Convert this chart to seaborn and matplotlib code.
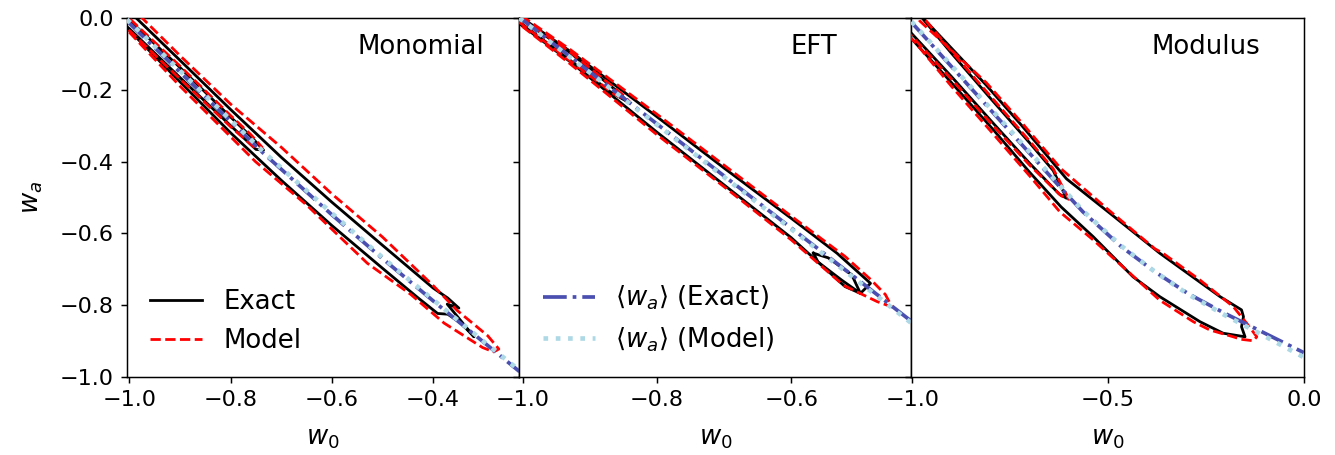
import numpy as np
import matplotlib
matplotlib.use("Agg")
import matplotlib.pyplot as plt
from matplotlib.lines import Line2D
import seaborn as sns

# ---------------- data (w0, wa) ----------------
panel_names = ["Monomial", "EFT", "Modulus"]
panel_xlims = [(-1.005, -0.2297), (-1.005, -0.421), (-1.002, 0.0)]
panel_xticks = [[-1.0, -0.8, -0.6, -0.4], [-1.0, -0.8, -0.6], [-1.0, -0.5, 0.0]]
yticks = [0.0, -0.2, -0.4, -0.6, -0.8, -1.0]

# ---- Monomial ----
mono_mean_exact_w0 = [-1.005, -0.9, -0.8, -0.735, -0.6, -0.5, -0.398, -0.3, -0.229]
mono_mean_exact_wa = [-0.008, -0.151, -0.288, -0.377, -0.548, -0.670, -0.790, -0.903, -0.985]
mono_mean_model_w0 = [-1.005, -0.9, -0.8, -0.735, -0.6, -0.5, -0.398, -0.3, -0.229]
mono_mean_model_wa = [-0.004, -0.147, -0.284, -0.373, -0.544, -0.667, -0.787, -0.901, -0.982]

mono_exact_outer_w0 = [-1.0, -0.9, -0.8, -0.7, -0.6, -0.5, -0.4, -0.371, -0.349, -0.372, -0.319,
                       -0.345, -0.371, -0.391, -0.431, -0.5, -0.6, -0.7, -0.8, -0.9, -1.0, -1.03]
mono_exact_outer_wa = [0.018, -0.118, -0.255, -0.388, -0.513, -0.633, -0.752, -0.780, -0.808, -0.797, -0.888,
                       -0.850, -0.825, -0.823, -0.778, -0.697, -0.578, -0.452, -0.320, -0.178, -0.035, 0.005]
mono_model_outer_w0 = [-1.0, -0.9, -0.8, -0.7, -0.6, -0.5, -0.4, -0.352, -0.292, -0.27, -0.28,
                       -0.302, -0.378, -0.444, -0.53, -0.649, -0.751, -0.9, -1.0, -1.03]
mono_model_outer_wa = [0.035, -0.105, -0.240, -0.360, -0.490, -0.610, -0.745, -0.815, -0.885, -0.922, -0.930,
                       -0.918, -0.850, -0.770, -0.683, -0.522, -0.400, -0.190, -0.040, 0.0]
mono_exact_inner_w0 = [-1.02, -0.9, -0.8, -0.76, -0.735, -0.75, -0.8, -0.9, -1.0, -1.03]
mono_exact_inner_wa = [0.02, -0.138, -0.276, -0.330, -0.368, -0.366, -0.300, -0.166, -0.030, 0.005]
mono_model_inner_w0 = [-1.02, -0.9, -0.8, -0.76, -0.738, -0.752, -0.8, -0.9, -1.0, -1.03]
mono_model_inner_wa = [0.025, -0.134, -0.272, -0.325, -0.360, -0.362, -0.303, -0.170, -0.035, 0.0]

# ---- EFT ----
eft_mean_exact_w0 = [-1.005, -0.9, -0.8, -0.7, -0.6, -0.5, -0.421]
eft_mean_exact_wa = [0.002, -0.150, -0.295, -0.440, -0.585, -0.730, -0.845]
eft_mean_model_w0 = [-1.005, -0.9, -0.8, -0.7, -0.6, -0.5, -0.421]
eft_mean_model_wa = [0.0, -0.152, -0.297, -0.443, -0.588, -0.734, -0.850]

eft_exact_outer_w0 = [-1.02, -0.929, -0.8, -0.7, -0.6, -0.532, -0.482, -0.497,
                      -0.52, -0.6, -0.7, -0.8, -0.929, -1.03]
eft_exact_outer_wa = [0.025, -0.093, -0.275, -0.418, -0.558, -0.655, -0.739, -0.767,
                      -0.748, -0.612, -0.465, -0.318, -0.122, 0.02]
eft_model_outer_w0 = [-1.02, -0.929, -0.8, -0.7, -0.6, -0.52, -0.482, -0.46, -0.45,
                      -0.472, -0.522, -0.6, -0.7, -0.8, -0.929, -1.03]
eft_model_outer_wa = [0.03, -0.088, -0.268, -0.410, -0.552, -0.664, -0.728, -0.770, -0.805,
                      -0.790, -0.745, -0.618, -0.470, -0.325, -0.128, 0.02]
eft_exact_inner_w0 = [-1.02, -0.929, -0.854, -0.845, -0.87, -0.929, -1.03]
eft_exact_inner_wa = [0.02, -0.097, -0.212, -0.232, -0.205, -0.118, 0.025]
eft_model_inner_w0 = [-1.02, -0.929, -0.85, -0.84, -0.865, -0.929, -1.03]
eft_model_inner_wa = [0.022, -0.095, -0.215, -0.235, -0.210, -0.120, 0.024]
eft_exact_island_w0 = [-0.567, -0.545, -0.51, -0.497, -0.525, -0.56, -0.567]
eft_exact_island_wa = [-0.655, -0.668, -0.715, -0.767, -0.730, -0.680, -0.655]

# ---- Modulus ----
modu_mean_exact_w0 = [-1.002, -0.8, -0.62, -0.564, -0.466, -0.38, -0.295, -0.201, -0.107, 0.0]
modu_mean_exact_wa = [-0.012, -0.256, -0.474, -0.540, -0.637, -0.707, -0.768, -0.823, -0.874, -0.932]
modu_mean_model_w0 = [-1.002, -0.8, -0.62, -0.564, -0.466, -0.38, -0.295, -0.201, -0.107, 0.0]
modu_mean_model_wa = [-0.010, -0.252, -0.470, -0.537, -0.635, -0.707, -0.770, -0.828, -0.882, -0.945]

modu_exact_outer_w0 = [-0.99, -0.956, -0.811, -0.72, -0.606, -0.495, -0.368, -0.214, -0.159, -0.154, -0.159, -0.150,
                       -0.206, -0.265, -0.368, -0.436, -0.538, -0.62, -0.70, -0.794, -0.90, -1.0, -1.03]
modu_exact_outer_wa = [0.02, -0.019, -0.187, -0.300, -0.448, -0.544, -0.655, -0.776, -0.813, -0.832, -0.860, -0.888,
                       -0.878, -0.846, -0.776, -0.721, -0.609, -0.526, -0.430, -0.310, -0.180, -0.060, -0.025]
modu_model_outer_w0 = [-1.0, -0.981, -0.811, -0.72, -0.62, -0.495, -0.38, -0.36, -0.265, -0.180, -0.146, -0.120, -0.129,
                       -0.16, -0.180, -0.240, -0.282, -0.368, -0.453, -0.538, -0.623, -0.70, -0.794, -0.9, -0.994, -1.03]
modu_model_outer_wa = [0.03, -0.008, -0.180, -0.292, -0.420, -0.538, -0.643, -0.655, -0.730, -0.804, -0.850, -0.888, -0.899,
                       -0.895, -0.888, -0.869, -0.846, -0.786, -0.702, -0.618, -0.540, -0.440, -0.322, -0.190, -0.066, -0.030]
modu_exact_inner_w0 = [-0.99, -0.9, -0.8, -0.7, -0.64, -0.606, -0.625, -0.7, -0.8, -0.9, -1.0, -1.03]
modu_exact_inner_wa = [0.02, -0.098, -0.224, -0.348, -0.425, -0.502, -0.490, -0.405, -0.285, -0.163, -0.045, -0.010]
modu_model_inner_w0 = [-0.99, -0.9, -0.8, -0.7, -0.64, -0.600, -0.62, -0.7, -0.8, -0.9, -1.0, -1.03]
modu_model_inner_wa = [0.025, -0.093, -0.218, -0.343, -0.420, -0.505, -0.495, -0.410, -0.292, -0.170, -0.052, -0.015]

exact_contours = [
    [(mono_exact_outer_w0, mono_exact_outer_wa), (mono_exact_inner_w0, mono_exact_inner_wa)],
    [(eft_exact_outer_w0, eft_exact_outer_wa), (eft_exact_inner_w0, eft_exact_inner_wa),
     (eft_exact_island_w0, eft_exact_island_wa)],
    [(modu_exact_outer_w0, modu_exact_outer_wa), (modu_exact_inner_w0, modu_exact_inner_wa)],
]
model_contours = [
    [(mono_model_outer_w0, mono_model_outer_wa), (mono_model_inner_w0, mono_model_inner_wa)],
    [(eft_model_outer_w0, eft_model_outer_wa), (eft_model_inner_w0, eft_model_inner_wa)],
    [(modu_model_outer_w0, modu_model_outer_wa), (modu_model_inner_w0, modu_model_inner_wa)],
]
mean_exact = [(mono_mean_exact_w0, mono_mean_exact_wa), (eft_mean_exact_w0, eft_mean_exact_wa),
              (modu_mean_exact_w0, modu_mean_exact_wa)]
mean_model = [(mono_mean_model_w0, mono_mean_model_wa), (eft_mean_model_w0, eft_mean_model_wa),
              (modu_mean_model_w0, modu_mean_model_wa)]

# ---------------- style ----------------
plt.rcParams['font.family'] = ['DejaVu Sans']
plt.rcParams['mathtext.fontset'] = 'dejavusans'
BLUE = "#4b50b0"
LIGHTBLUE = "#add8e6"

fig, axes = plt.subplots(1, 3, sharey=True, figsize=(10, 455 / 133.5), dpi=133.5)
fig.subplots_adjust(left=0.0951, right=0.9766, top=0.9604, bottom=0.1714, wspace=0)

for i, ax in enumerate(axes):
    for (xs, ys) in exact_contours[i]:
        sns.lineplot(x=xs, y=ys, sort=False, estimator=None, ax=ax, color="black",
                     linewidth=1.5, linestyle="-", zorder=2)
    for (xs, ys) in model_contours[i]:
        sns.lineplot(x=xs, y=ys, sort=False, estimator=None, ax=ax, color="red",
                     linewidth=1.5, linestyle="--", zorder=3)
    xs, ys = mean_exact[i]
    sns.lineplot(x=xs, y=ys, sort=False, estimator=None, ax=ax, color=BLUE,
                 linewidth=2.0, linestyle="-.", zorder=4)
    xs, ys = mean_model[i]
    sns.lineplot(x=xs, y=ys, sort=False, estimator=None, ax=ax, color=LIGHTBLUE,
                 linewidth=2.5, linestyle=":", zorder=5)

    ax.set_xlim(*panel_xlims[i])
    ax.set_ylim(-1.0, 0.0)
    ax.set_xticks(panel_xticks[i])
    ax.set_yticks(yticks)
    ax.tick_params(labelsize=12)
    ax.set_xlabel(r"$w_0$", fontsize=14, labelpad=8)
    ax.text(0.75, 0.90, panel_names[i], transform=ax.transAxes, ha="center",
            va="baseline", fontsize=14)

axes[0].set_ylabel(r"$w_a$", fontsize=14, labelpad=8)
axes[1].set_ylabel("")
axes[2].set_ylabel("")

h1 = [Line2D([], [], color="black", lw=1.5, ls="-"),
      Line2D([], [], color="red", lw=1.5, ls="--")]
axes[0].legend(h1, ["Exact", "Model"], loc="lower left", frameon=False, fontsize=14)
h2 = [Line2D([], [], color=BLUE, lw=2.0, ls="-."),
      Line2D([], [], color=LIGHTBLUE, lw=2.5, ls=":")]
axes[1].legend(h2, [r"$\langle w_a\rangle$ (Exact)", r"$\langle w_a\rangle$ (Model)"],
               loc="lower left", frameon=False, fontsize=14)

fig.savefig("out.png", dpi=133.5)
